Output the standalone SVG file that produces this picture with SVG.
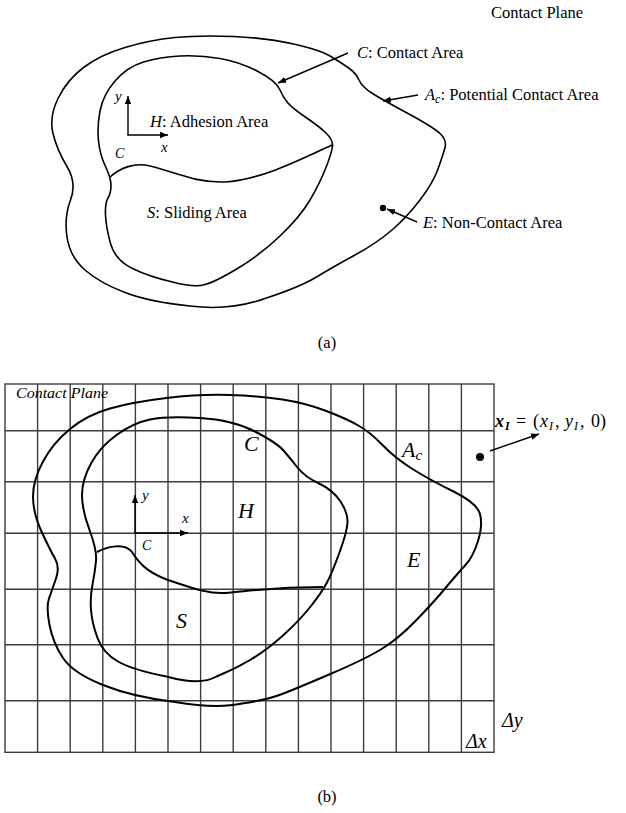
<svg xmlns="http://www.w3.org/2000/svg" width="626" height="813" viewBox="0 0 626 813">
<style>
.curve{fill:none;stroke:#000;stroke-width:1.6;stroke-linejoin:round}
.curveb{fill:none;stroke:#000;stroke-width:2;stroke-linejoin:round}
.grid{stroke:#3c3c3c;stroke-width:1.4;fill:none}
.lbl{font-family:"Liberation Serif",serif;font-size:16.5px;fill:#000}
.it{font-style:italic}
.math{font-family:"Liberation Serif",serif;font-style:italic;fill:#000}
.conn{stroke:#000;stroke-width:1.4;fill:none}
</style>
<defs>
<marker id="arr" viewBox="0 0 10 10" refX="10" refY="5" markerWidth="8" markerHeight="8" markerUnits="userSpaceOnUse" orient="auto"><path d="M0,1 L10,5 L0,9 z" fill="#000"/></marker>
</defs>
<rect width="626" height="813" fill="#fff"/>

<!-- Panel (a) -->
<g id="a-potential-contact-area">
<path class="curve" d="M53,133.5 Q49,117 58,98.5 Q67,80 83.5,67.5 Q100,55 125,47.5 Q150,40 175,37.5 Q200,35 233.5,36.5 Q267,38 293.5,44 Q320,50 330,56 Q340,62 348,67.5 Q356,73 359,80 Q362,87 372.5,93.5 Q383,100 408,113.5 Q433,127 440,133.5 Q447,140 445,147.5 Q443,155 438,169 Q433,183 420,200 Q407,217 392,230 Q377,243 355,255 Q333,267 316.5,277 Q300,287 265,298.5 Q230,311 190,306 Q150,302 125,292.5 Q100,283 85,270 Q70,257 67,237 Q64,217 70.5,200 Q77,183 67,166.5 Q57,150 53,133.5 Z"/>
</g>
<g id="a-contact-area">
<path class="curve" d="M98.5,141 Q97,127 100,111 Q103,95 115,81 Q127,67 143.5,62 Q160,57 180,56 Q200,55 220,58.5 Q240,62 258,71.5 Q276,81 279.5,89 Q283,97 287.5,102.5 Q292,108 306,117.5 Q320,127 326.5,133.5 Q333,140 332.5,146 Q332,152 326,167.5 Q320,183 310,200 Q300,217 280,236 Q260,255 237.5,268.5 Q215,282 205,284.5 Q195,288 172.5,282 Q150,277 132.5,268.5 Q115,260 110.5,243.5 Q106,227 105.5,215 Q105,203 108,198 Q111,193 111,185.5 Q111,178 105.5,166.5 Q100,155 98.5,141 Z"/>
</g>
<g id="a-adhesion-sliding-boundary">
<path class="curve" d="M110,177 C120,168 135,162 150,166 C175,172 195,183 225,182 C260,180 300,160 332,145"/>
</g>
<g id="a-labels">
<text class="lbl" x="491" y="18">Contact Plane</text>
<text class="lbl" x="357" y="58"><tspan class="it">C</tspan>: Contact Area</text>
<text class="lbl" x="425" y="100"><tspan class="it">A</tspan><tspan class="it" font-size="12" dy="3">c</tspan><tspan dy="-3">: Potential Contact Area</tspan></text>
<text class="lbl" x="150" y="127"><tspan class="it">H</tspan>: Adhesion Area</text>
<text class="lbl" x="147" y="218"><tspan class="it">S</tspan>: Sliding Area</text>
<text class="lbl" x="423" y="228"><tspan class="it">E</tspan>: Non-Contact Area</text>
<text class="math" x="115" y="101" font-size="15">y</text>
<text class="math" x="161" y="152" font-size="15">x</text>
<text class="math" x="115" y="158" font-size="14">C</text>
<text class="lbl" x="327" y="348" text-anchor="middle" font-size="17">(a)</text>
</g>
<circle id="a-point" cx="383" cy="208" r="3.2" fill="#000"/>

<!-- Panel (b) -->
<g id="b-grid">
<rect class="grid" x="5" y="384" width="489" height="368.3"/>
<path class="grid" d="M37.6,384V752.3 M70.2,384V752.3 M102.8,384V752.3 M135.4,384V752.3 M168,384V752.3 M200.6,384V752.3 M233.2,384V752.3 M265.8,384V752.3 M298.4,384V752.3 M331,384V752.3 M363.6,384V752.3 M396.2,384V752.3 M428.8,384V752.3 M461.4,384V752.3 M5,430.7H494 M5,481.7H494 M5,533.3H494 M5,589.3H494 M5,644.7H494 M5,700.7H494"/>
</g>
<g id="b-potential-contact-area">
<path class="curveb" d="M33,496.5 Q33,480 43,461.5 Q53,443 70,429 Q87,415 110,408.5 Q133,402 166.5,398 Q200,394 230,395 Q260,396 282.5,399.5 Q305,403 325,410.5 Q345,418 357.5,425 Q370,432 382.5,445 Q395,458 412.5,469 Q430,480 453.5,491.5 Q477,503 480,514 Q483,525 478,541 Q473,557 465.5,565 Q458,573 445.5,588 Q433,603 415,621.5 Q397,640 380,650 Q363,660 331.5,673.5 Q300,687 283.5,693.5 Q267,700 242,703.5 Q217,709 175,702 Q133,697 103,685 Q73,673 63,658 Q53,643 49.5,625 Q46,607 49,598.5 Q52,590 56,578.5 Q60,567 55,558.5 Q50,550 41.5,531.5 Q33,513 33,496.5 Z"/>
</g>
<g id="b-contact-area">
<path class="curveb" d="M82,495 Q82,480 91,463.5 Q100,447 116.5,435 Q133,423 150,419.5 Q167,416 200,418 Q233,420 255,431.5 Q277,443 283.5,450.5 Q290,458 297.5,467.5 Q305,477 319,483.5 Q333,490 340.5,501.5 Q348,513 347.5,522.5 Q347,532 339.5,552.5 Q332,573 327,582.5 Q322,592 311,606 Q300,620 283.5,635 Q267,650 250,660 Q233,670 216.5,676.5 Q200,686 166.5,676.5 Q133,670 118,661.5 Q103,653 97.5,638 Q92,623 91,610 Q90,597 92.5,584.5 Q95,572 96,561 Q97,550 89.5,530 Q82,510 82,495 Z"/>
</g>
<g id="b-adhesion-sliding-boundary">
<path class="curveb" d="M97,552 C108,546 125,543 132,552 C140,565 150,575 177,583 C195,589 210,594 225,593 C250,591 270,587 323,587"/>
</g>
<g id="b-labels">
<text class="math" x="16" y="398" font-size="15" textLength="92" lengthAdjust="spacingAndGlyphs">Contact Plane</text>
<text class="math" x="244" y="451" font-size="22">C</text>
<text class="math" x="238" y="518" font-size="22">H</text>
<text class="math" x="402" y="457" font-size="22">A<tspan font-size="15" dy="3">c</tspan></text>
<text class="math" x="407" y="567" font-size="22">E</text>
<text class="math" x="176" y="628" font-size="22">S</text>
<text class="math" x="142" y="500" font-size="15">y</text>
<text class="math" x="182" y="523" font-size="15">x</text>
<text class="math" x="142" y="550" font-size="14">C</text>
<text class="math" x="502" y="727" font-size="20">Δy</text>
<text class="math" x="466" y="748" font-size="20">Δx</text>
<text class="math" y="427" font-size="18"><tspan x="495" font-weight="bold">x</tspan><tspan x="505" font-weight="bold" font-size="12" dy="3">I</tspan><tspan x="516" font-style="normal" dy="-3">=</tspan><tspan x="533" font-style="normal">(</tspan><tspan x="540">x</tspan><tspan x="549" font-size="12" dy="3">I</tspan><tspan x="555" font-style="normal" dy="-3">,</tspan><tspan x="565">y</tspan><tspan x="574" font-size="12" dy="3">I</tspan><tspan x="580" font-style="normal" dy="-3">,</tspan><tspan x="591" font-style="normal">0)</tspan></text>
<text class="lbl" x="327" y="802" text-anchor="middle" font-size="17">(b)</text>
</g>
<circle id="b-point" cx="480" cy="457" r="4" fill="#000"/>

<g id="connectors">
<line class="conn" x1="348" y1="53" x2="278" y2="83" marker-end="url(#arr)"/>
<line class="conn" x1="418" y1="95" x2="383" y2="101" marker-end="url(#arr)"/>
<line class="conn" x1="417" y1="222" x2="387" y2="209" marker-end="url(#arr)"/>
<line class="conn" x1="128" y1="135" x2="128" y2="96" marker-end="url(#arr)"/>
<line class="conn" x1="127.3" y1="135" x2="168" y2="135" marker-end="url(#arr)"/>
<line class="conn" stroke-width="2" x1="135" y1="533" x2="135" y2="495" marker-end="url(#arr)"/>
<line class="conn" stroke-width="2" x1="134" y1="533" x2="188" y2="533" marker-end="url(#arr)"/>
<line class="conn" x1="490" y1="451" x2="539" y2="434" marker-end="url(#arr)"/>
</g>
</svg>
